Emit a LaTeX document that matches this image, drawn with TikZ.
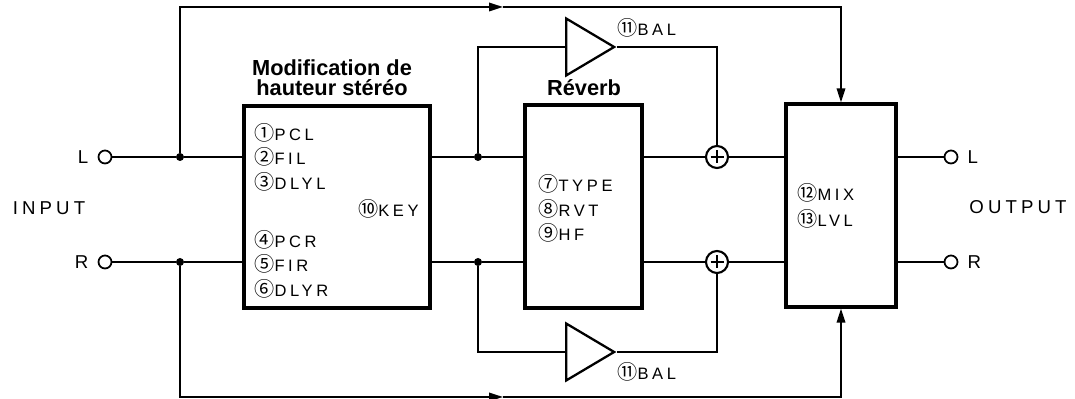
\documentclass[tikz,border=0pt]{standalone}
\usepackage{fontspec}
\setmainfont{Liberation Sans}
\newfontfamily\spaced[LetterSpace=22]{Liberation Sans}
\newfontfamily\circfont[Scale=1.22]{Noto Sans CJK JP}
\usepackage{tikz}
\usetikzlibrary{positioning, arrows.meta, shapes.geometric}

\newcommand{\nr}[1]{{\circfont #1}}

\tikzset{
  wire/.style={line width=1pt},
  blockbox/.style={draw, line width=1.8pt, inner sep=0pt},
  jack/.style={circle, draw, line width=1pt, minimum size=0.26cm, inner sep=0pt, fill=white},
  joint/.style={circle, fill, minimum size=0.16cm, inner sep=0pt},
  adder/.style={circle, draw, line width=1.2pt, minimum size=0.44cm, inner sep=0pt},
  amp/.style={isosceles triangle, isosceles triangle stretches, draw, line width=1.3pt,
    minimum width=1.14cm, minimum height=0.96cm, inner sep=0pt, anchor=west},
  parm/.style={font=\spaced\fontsize{9.4}{9.4}\selectfont, anchor=west, inner sep=0pt},
  title/.style={font=\bfseries\fontsize{12.4}{11.5}\selectfont, align=center, inner sep=0pt},
  side/.style={font=\spaced\fontsize{10.6}{10}\selectfont, inner sep=0pt},
  flow/.style={wire, -{Triangle[length=0.28cm, width=0.17cm]}},
}

\begin{document}
\begin{tikzpicture}
  \useasboundingbox (0,0) rectangle (21.5,7.98);

  % input side
  \node[side] (input) at (0.98,3.82) {INPUT};
  \node[jack] (inl) at (2.10,4.84) {};
  \node[jack] (inr) at (2.10,2.74) {};
  \node[side, left=0.18cm of inl] (inltxt) {L};
  \node[side, left=0.18cm of inr] (inrtxt) {R};
  \node[joint] (jil) at (3.60,4.84) {};
  \node[joint] (jir) at (3.60,2.74) {};

  % pitch shifter
  \node[blockbox, minimum width=3.72cm, minimum height=4.04cm] (pitch) at (6.74,3.84) {};
  \node[title] (pitchtxt) at (6.64,6.42) {Modification de\\hauteur stéréo};
  \node[parm] (pcl) at (5.08,5.32) {\nr{①}PCL};
  \node[parm] (fil) at (5.08,4.84) {\nr{②}FIL};
  \node[parm] (dlyl) at (5.08,4.34) {\nr{③}DLYL};
  \node[parm, anchor=east] (key) at (8.38,3.80) {\nr{⑩}KEY};
  \node[parm] (pcr) at (5.08,3.18) {\nr{④}PCR};
  \node[parm] (fir) at (5.08,2.70) {\nr{⑤}FIR};
  \node[parm] (dlyr) at (5.08,2.20) {\nr{⑥}DLYR};
  \node[joint] (jml) at (9.56,4.84) {};
  \node[joint] (jmr) at (9.56,2.74) {};

  % reverb
  \node[blockbox, minimum width=2.34cm, minimum height=4.06cm] (reverb) at (11.67,3.85) {};
  \node[title] (reverbtxt) at (11.68,6.22) {Réverb};
  \node[parm] (type) at (10.76,4.30) {\nr{⑦}TYPE};
  \node[parm] (rvt) at (10.76,3.80) {\nr{⑧}RVT};
  \node[parm] (hf) at (10.76,3.32) {\nr{⑨}HF};

  % balance amps and adders
  \node[amp] (ampu) at (11.30,7.04) {};
  \node[amp] (ampd) at (11.30,0.94) {};
  \node[parm] (balu) at (12.34,7.42) {\nr{⑪}BAL};
  \node[parm] (bald) at (12.34,0.54) {\nr{⑪}BAL};
  \node[adder] (addl) at (14.34,4.84) {};
  \node[adder] (addr) at (14.34,2.74) {};
  \draw[line width=1.2pt] (addl) ++(0,0.13) -- ++(0,-0.26) (addl) ++(-0.13,0) -- ++(0.26,0);
  \draw[line width=1.2pt] (addr) ++(0,0.13) -- ++(0,-0.26) (addr) ++(-0.13,0) -- ++(0.26,0);

  % mixer
  \node[blockbox, minimum width=2.20cm, minimum height=4.06cm] (mix) at (16.82,3.87) {};
  \node[parm] (mixtxt) at (15.94,4.12) {\nr{⑫}MIX};
  \node[parm] (lvl) at (15.94,3.60) {\nr{⑬}LVL};

  % output side
  \node[jack] (outl) at (19.02,4.84) {};
  \node[jack] (outr) at (19.02,2.74) {};
  \node[side, right=0.18cm of outl] (outltxt) {L};
  \node[side, right=0.18cm of outr] (outrtxt) {R};
  \node[side] (output) at (20.36,3.84) {OUTPUT};

  % signal lines
  \draw[wire] (inl) -- (jil) -- (jil -| pitch.west);
  \draw[wire] (inr) -- (jir) -- (jir -| pitch.west);
  \draw[wire] (pitch.east |- jml) -- (jml) -- (jml -| reverb.west);
  \draw[wire] (pitch.east |- jmr) -- (jmr) -- (jmr -| reverb.west);
  \draw[wire] (reverb.east |- addl) -- (addl) -- (addl -| mix.west);
  \draw[wire] (reverb.east |- addr) -- (addr) -- (addr -| mix.west);
  \draw[wire] (mix.east |- outl) -- (outl);
  \draw[wire] (mix.east |- outr) -- (outr);
  \draw[wire] (jml) |- (ampu.west);
  \draw[wire] (ampu.apex) -| (addl);
  \draw[wire] (jmr) |- (ampd.west);
  \draw[wire] (ampd.apex) -| (addr);

  % dry bypass
  \coordinate (tophalf) at (10.06,7.84);
  \coordinate (bothalf) at (10.06,0.04);
  \draw[flow] (jil) |- (tophalf);
  \draw[flow] (tophalf) -| (mix.north);
  \draw[flow] (jir) |- (bothalf);
  \draw[flow] (bothalf) -| (mix.south);
\end{tikzpicture}
\end{document}
